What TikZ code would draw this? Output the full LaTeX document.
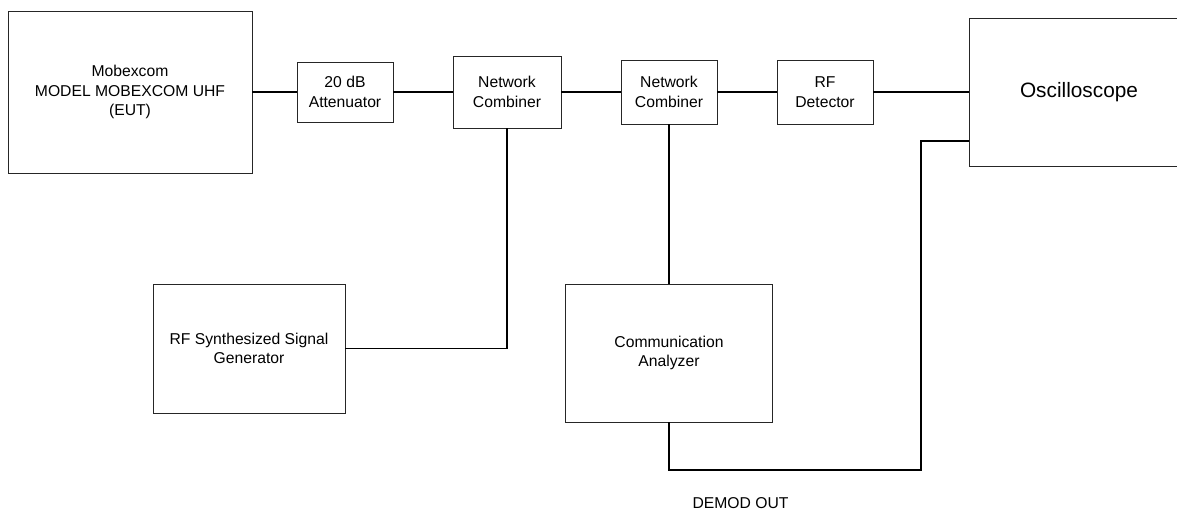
\documentclass[tikz,border=0pt]{standalone}
\usepackage{fontspec}
\setmainfont{Liberation Sans}
\begin{document}
\begin{tikzpicture}[x=1pt,y=-1pt,
  box/.style={draw=black!85, line width=0.9pt, inner sep=0pt, align=center,
    font=\fontsize{15.7}{19.5}\selectfont},
  wire/.style={draw=black, line width=1.8pt},
  lbl/.style={inner sep=0pt, font=\fontsize{15.7}{19.5}\selectfont}]
\useasboundingbox (0,0) rectangle (1177,510);
\fill[white] (0,0) rectangle (1177,510);
\node[box, minimum width=244pt, minimum height=162pt] (eut) at (130,92)
  {Mobexcom\\MODEL MOBEXCOM UHF\\(EUT)};
\node[box, minimum width=96pt, minimum height=60pt] (att) at (345,92)
  {20 dB\\Attenuator};
\node[box, minimum width=108pt, minimum height=72pt] (nc1) at (507,92)
  {Network\\Combiner};
\node[box, minimum width=96pt, minimum height=64pt] (nc2) at (669,92)
  {Network\\Combiner};
\node[box, minimum width=96pt, minimum height=64pt] (det) at (825,92)
  {RF\\Detector};
\node[box, minimum width=220pt, minimum height=148pt,
  font=\fontsize{20.8}{24}\selectfont] (osc) at (1079,92) {Oscilloscope};
\node[box, minimum width=192pt, minimum height=129pt] (gen) at (249,348.5)
  {RF Synthesized Signal\\Generator};
\node[box, minimum width=207pt, minimum height=138pt] (ca) at (669,353)
  {Communication\\Analyzer};
\node[lbl] (demodlbl) at (740.5,503.5) {DEMOD OUT};
\coordinate (demod) at (921,470);
\coordinate (oscin) at (osc.west |- 0,141);
\draw[wire] (eut.east) -- (att.west);
\draw[wire] (att.east) -- (nc1.west);
\draw[wire] (nc1.east) -- (nc2.west);
\draw[wire] (nc2.east) -- (det.west);
\draw[wire] (det.east) -- (osc.west);
\draw[wire] (gen.east) -| (nc1.south);
\draw[wire] (nc2.south) -- (ca.north);
\draw[wire] (ca.south) |- (demod) |- (oscin);
\end{tikzpicture}
\end{document}
